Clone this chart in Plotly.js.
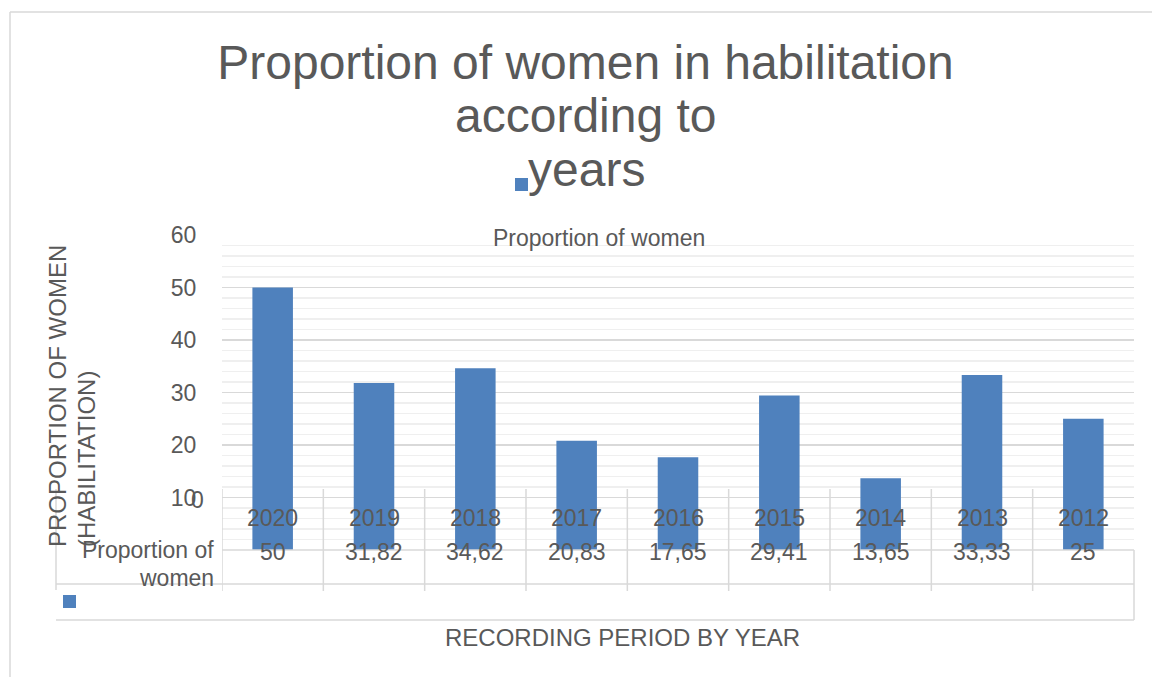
<!DOCTYPE html>
<html><head><meta charset="utf-8">
<script src="https://cdn.plot.ly/plotly-3.0.1.min.js"></script>
<style>html,body{margin:0;padding:0;background:#fff}#chart{width:1152px;height:677px}</style>
</head><body><div id="chart"></div>
<script>
const years = ['2020','2019','2018','2017','2016','2015','2014','2013','2012'];
const proportionOfWomen = [50, 31.82, 34.62, 20.83, 17.65, 29.41, 13.65, 33.33, 25];
const seriesName = 'Proportion of women';
const yTickValues = [10, 20, 30, 40, 50, 60];
const titleLines = ['Proportion of women in habilitation', 'according to', 'years'];
const yTitleLines = ['PROPORTION OF WOMEN', '(HABILITATION)'];
const xTitle = 'RECORDING PERIOD BY YEAR';

const W = 1152, H = 677, L = 222, R = 18, T = 235, B = 127;
const pw = W - L - R, ph = H - T - B;
const px = x => (x - L) / pw;
const py = y => (H - B - y) / ph;
const FONT = 'Liberation Sans, Arial, sans-serif';
const GREY = '#595959', LINE = '#d9d9d9', BLUE = '#4f81bd';
const f = (s) => ({family: FONT, size: s, color: GREY});
const fmt = v => String(v).replace('.', ',');

const ann = [];
const txt = (text, x, y, opts) => ann.push(Object.assign({text, x, y, xref: 'paper', yref: 'paper', showarrow: false, font: f(23), xanchor: 'center', yanchor: 'middle'}, opts || {}));

// title lines 2 and 3
txt(titleLines[1], px(586), py(115), {font: f(48)});
txt(titleLines[2], px(586), py(169), {font: f(48)});
// series label inside plot
txt(seriesName, px(599), py(238));
// category labels and values (data table)
years.forEach((yr, i) => {
  ann.push({text: yr, x: i, xref: 'x', y: py(518), yref: 'paper', showarrow: false, font: f(23), xanchor: 'center', yanchor: 'middle'});
  ann.push({text: fmt(proportionOfWomen[i]), x: i, xref: 'x', y: py(552), yref: 'paper', showarrow: false, font: f(23), xanchor: 'center', yanchor: 'middle'});
});
const cut = seriesName.lastIndexOf(' ');
txt(seriesName.slice(0, cut), px(216), py(550), {xanchor: 'right'});
txt(seriesName.slice(cut + 1), px(216), py(578), {xanchor: 'right'});
// stray zero label
txt('0', px(197), py(500));
// y title
txt(yTitleLines[0], px(57), py(549), {textangle: -90, yanchor: 'bottom', font: f(24)});
txt(yTitleLines[1], px(86), py(549), {textangle: -90, yanchor: 'bottom', font: f(24)});
// x title
txt(xTitle, px(622), py(637), {font: f(24)});

const ln = (x0, y0, x1, y1, xref) => ({type: 'line', xref: xref || 'paper', yref: 'paper', x0, y0, x1, y1, line: {color: LINE, width: 1.5}});
const shapes = [
  ln(px(10), py(12), px(1152), py(12)),
  ln(px(10), py(12), px(10), py(677)),
  ln(0, 0, 1, 0),
  ln(px(56), py(584), 1, py(584)),
  ln(px(56), py(620), 1, py(620)),
  ln(px(56), py(489), px(56), py(590)),
  ln(1, 0, 1, py(620)),
  {type: 'rect', xref: 'paper', yref: 'paper', x0: px(63), x1: px(76), y0: py(608), y1: py(595), fillcolor: BLUE, line: {width: 0}},
  {type: 'rect', xref: 'paper', yref: 'paper', x0: px(515), x1: px(528), y0: py(191), y1: py(178), fillcolor: BLUE, line: {width: 0}}
];
years.forEach((yr, i) => shapes.push(ln(i - 0.5, py(489), i - 0.5, py(591), 'x')));

const data = [{
  type: 'bar', x: years, y: proportionOfWomen, name: seriesName,
  marker: {color: BLUE}, hoverinfo: 'none', showlegend: false
}];

const layout = {
  width: W, height: H,
  margin: {l: L, r: R, t: T, b: B, pad: 0},
  paper_bgcolor: '#fff', plot_bgcolor: '#fff',
  bargap: 0.6,
  title: {text: titleLines[0], font: f(48), x: 585.5 / W, xanchor: 'center', xref: 'container', yref: 'container', y: 1 - 62 / H, yanchor: 'middle'},
  xaxis: {type: 'category', range: [-0.5, 8.5], showticklabels: false, showgrid: false, zeroline: false, showline: false, fixedrange: true},
  yaxis: {range: [0, 60], tickmode: 'array', tickvals: yTickValues, ticks: 'outside', ticklen: 20, tickcolor: 'rgba(0,0,0,0)',
    tickfont: f(23), gridcolor: LINE, gridwidth: 1.5, zeroline: false, showline: false, fixedrange: true,
    minor: {tick0: 0, dtick: 2, showgrid: true, gridcolor: '#efefef', gridwidth: 1.5, ticks: ''}},
  annotations: ann,
  shapes: shapes,
  font: f(23)
};
Plotly.newPlot('chart', data, layout, {staticPlot: true, displayModeBar: false});
</script></body></html>
